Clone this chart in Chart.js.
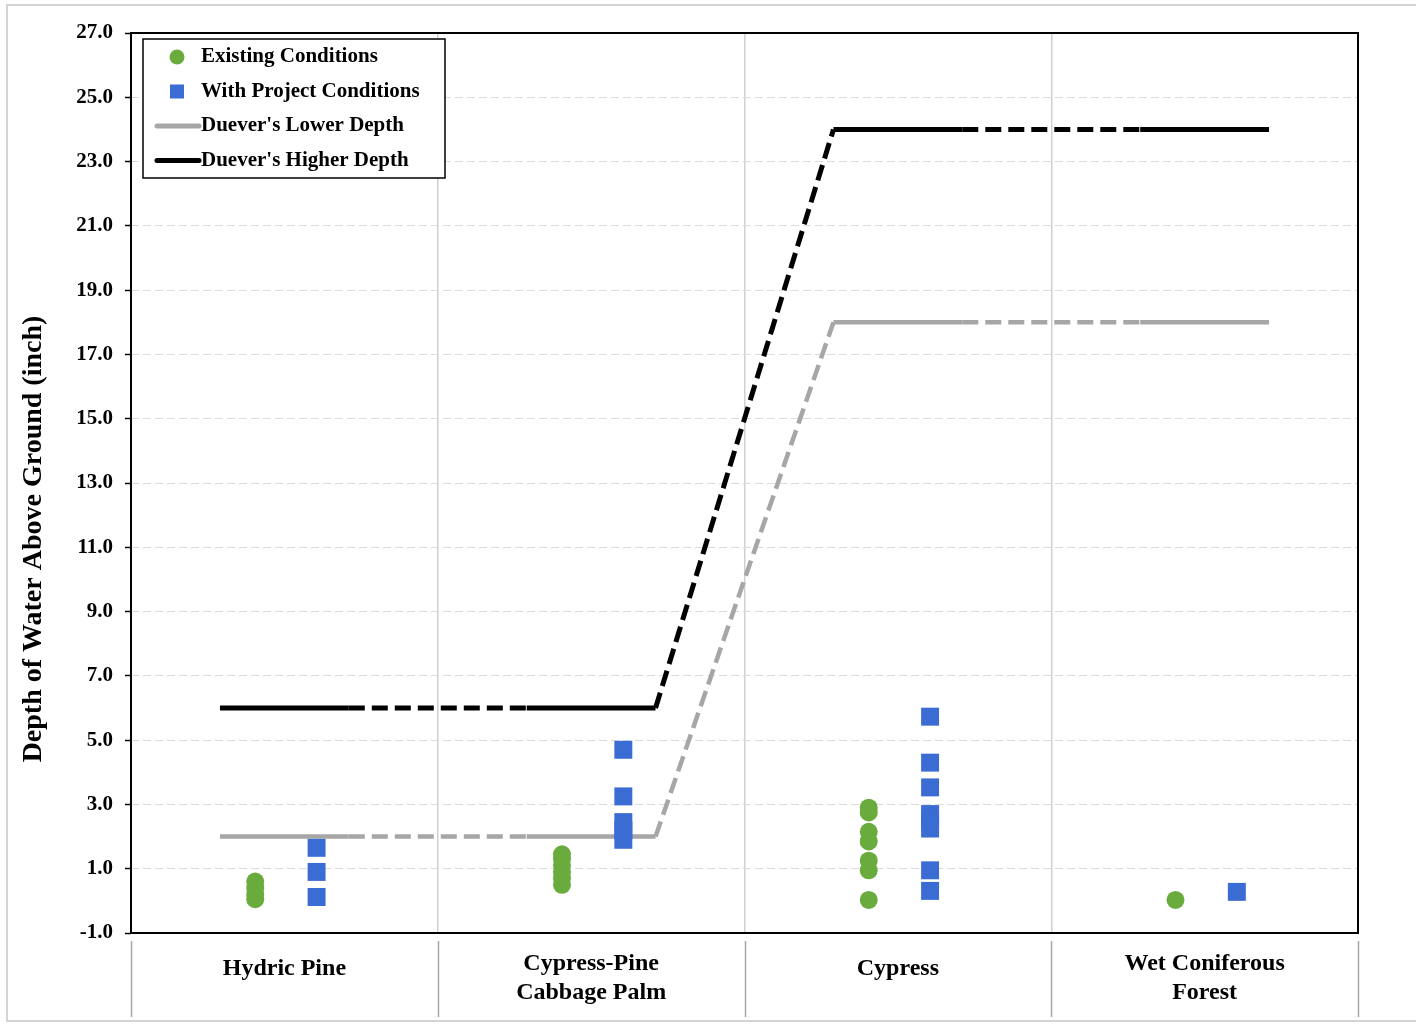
<!DOCTYPE html>
<html>
<head>
<meta charset="utf-8">
<script src="https://cdn.jsdelivr.net/npm/chart.js@4.4.1/dist/chart.umd.min.js"></script>
<style>
  html, body { margin: 0; padding: 0; background: #fff; }
  #wrap { width: 1416px; height: 1024px; }
</style>
</head>
<body>
<div id="wrap"><canvas id="chart" width="1416" height="1024"></canvas></div>
<script>
// categories along the x axis (one column each)
const categories = [
    ["Hydric Pine"],
    ["Cypress-Pine", "Cabbage Palm"],
    ["Cypress"],
    ["Wet Coniferous", "Forest"]
];

// depth readings per category (inch)
const existingValues = [
    [0.05, 0.2, 0.4, 0.6],
    [0.5, 0.7, 0.9, 1.1, 1.3, 1.45],
    [2.9, 2.75, 2.15, 1.85, 1.25, 0.95, 0.03],
    [0.03]
];
const projectValues = [
    [1.65, 0.9, 0.12],
    [4.7, 3.25, 2.45, 2.2, 1.9],
    [5.73, 4.3, 3.53, 2.7, 2.5, 2.25, 0.95, 0.31],
    [0.28]
];

// Duever's depth range per category
const lowerDepth = [2, 2, 18, 18];
const higherDepth = [6, 6, 24, 24];

const yTicks = [-1, 1, 3, 5, 7, 9, 11, 13, 15, 17, 19, 21, 23, 25, 27];
const xGrid = [0, 1, 2, 3, 4];
const yTitle = "Depth of Water Above Ground (inch)";

const serif = "'Liberation Serif', 'Times New Roman', serif";

function pointsFor(values, offset) {
    let pts = [];
    values.forEach((list, i) => {
        list.forEach(v => pts.push({ x: i + offset, y: v }));
    });
    return pts;
}

function stepsFor(values) {
    let pts = [];
    values.forEach((v, i) => {
        pts.push({ x: i + 0.29, y: v });
        pts.push({ x: i + 0.71, y: v });
    });
    return pts;
}

const dashBetween = ctx => ctx.p0DataIndex % 2 === 1 ? [16, 7] : undefined;

const framePlugin = {
    id: "frame",
    afterDraw(chart) {
        const ctx = chart.ctx;
        const area = chart.chartArea;
        const xs = chart.scales.x;

        ctx.save();
        // outer light frame
        ctx.strokeStyle = "#d4d4d4";
        ctx.lineWidth = 2;
        ctx.strokeRect(7, 5, 1420, 1016);

        // plot border
        ctx.strokeStyle = "#000";
        ctx.lineWidth = 2;
        ctx.strokeRect(area.left, area.top, area.right - area.left, area.bottom - area.top);

        // y title, sits a bit below the middle like the original
        ctx.save();
        ctx.translate(34, 539);
        ctx.rotate(-Math.PI / 2);
        ctx.fillStyle = "#000";
        ctx.font = "bold 28px " + serif;
        ctx.textAlign = "center";
        ctx.textBaseline = "middle";
        ctx.fillText(yTitle, 0, 0);
        ctx.restore();

        // separators under the axis
        ctx.strokeStyle = "#a6a6a6";
        ctx.lineWidth = 1.5;
        xGrid.forEach(v => {
            const px = Math.round(xs.getPixelForValue(v)) + 0.5;
            ctx.beginPath();
            ctx.moveTo(px, area.bottom + 8);
            ctx.lineTo(px, area.bottom + 84);
            ctx.stroke();
        });

        // category labels
        ctx.fillStyle = "#000";
        ctx.font = "bold 24px " + serif;
        ctx.textAlign = "center";
        ctx.textBaseline = "middle";
        categories.forEach((lines, i) => {
            const px = xs.getPixelForValue(i + 0.5);
            if (lines.length === 1) {
                ctx.fillText(lines[0], px, area.bottom + 36);
            } else {
                ctx.fillText(lines[0], px, area.bottom + 31);
                ctx.fillText(lines[1], px, area.bottom + 60);
            }
        });

        // legend box
        const lx = 143, ly = 39, lw = 302, lh = 139;
        ctx.fillStyle = "#fff";
        ctx.fillRect(lx, ly, lw, lh);
        ctx.strokeStyle = "#000";
        ctx.lineWidth = 1.5;
        ctx.strokeRect(lx, ly, lw, lh);
        ctx.font = "bold 21px " + serif;
        ctx.textAlign = "left";
        chart.data.datasets.forEach((ds, i) => {
            const cy = 57 + i * 34.5;
            if (ds.showLine) {
                ctx.strokeStyle = ds.borderColor;
                ctx.lineWidth = 5;
                ctx.lineCap = "round";
                ctx.beginPath();
                ctx.moveTo(157, cy);
                ctx.lineTo(199, cy);
                ctx.stroke();
            } else if (ds.pointStyle === "rect") {
                ctx.fillStyle = ds.backgroundColor;
                ctx.fillRect(170, cy - 7, 14, 14);
            } else {
                ctx.fillStyle = ds.backgroundColor;
                ctx.beginPath();
                ctx.arc(177, cy, 7.5, 0, Math.PI * 2);
                ctx.fill();
            }
            ctx.fillStyle = "#000";
            ctx.fillText(ds.label, 201, cy);
        });
        ctx.restore();
    }
};

new Chart(document.getElementById("chart"), {
    type: "scatter",
    data: {
        datasets: [
            {
                label: "Existing Conditions",
                data: pointsFor(existingValues, 0.405),
                pointStyle: "circle",
                pointRadius: 9,
                pointHoverRadius: 9,
                backgroundColor: "#6aab3e",
                borderColor: "#6aab3e",
                borderWidth: 0
            },
            {
                label: "With Project Conditions",
                data: pointsFor(projectValues, 0.605),
                pointStyle: "rect",
                pointRadius: 12.7,
                pointHoverRadius: 12.7,
                backgroundColor: "#3a6cd4",
                borderColor: "#3a6cd4",
                borderWidth: 0
            },
            {
                label: "Duever's Lower Depth",
                data: stepsFor(lowerDepth),
                showLine: true,
                pointRadius: 0,
                borderColor: "#a6a6a6",
                borderWidth: 4.5,
                borderCapStyle: "butt",
                segment: { borderDash: dashBetween }
            },
            {
                label: "Duever's Higher Depth",
                data: stepsFor(higherDepth),
                showLine: true,
                pointRadius: 0,
                borderColor: "#000000",
                borderWidth: 5,
                borderCapStyle: "butt",
                segment: { borderDash: dashBetween }
            }
        ]
    },
    options: {
        responsive: false,
        animation: false,
        layout: { padding: { left: 10, right: 58, top: 33, bottom: 91 } },
        plugins: {
            legend: { display: false },
            tooltip: { enabled: false }
        },
        scales: {
            x: {
                type: "linear",
                min: 0,
                max: 4,
                afterBuildTicks: s => { s.ticks = xGrid.map(v => ({ value: v })); },
                ticks: { display: false },
                grid: { color: "#d0d0d0", lineWidth: 1.5, drawTicks: false },
                border: { display: false }
            },
            y: {
                min: -1,
                max: 27,
                afterBuildTicks: s => { s.ticks = yTicks.map(v => ({ value: v })); },
                afterFit: s => { s.width = 121; },
                ticks: {
                    color: "#000",
                    padding: 12,
                    font: { family: serif, size: 21, weight: "bold" },
                    callback: v => v.toFixed(1)
                },
                grid: {
                    color: "#dcdcdc",
                    lineWidth: 1,
                    tickLength: 6,
                    tickColor: "#000",
                    tickWidth: 1.5
                },
                border: { display: false, dash: [8, 4] },
                title: { display: false }
            }
        }
    },
    plugins: [framePlugin]
});
</script>
</body>
</html>
